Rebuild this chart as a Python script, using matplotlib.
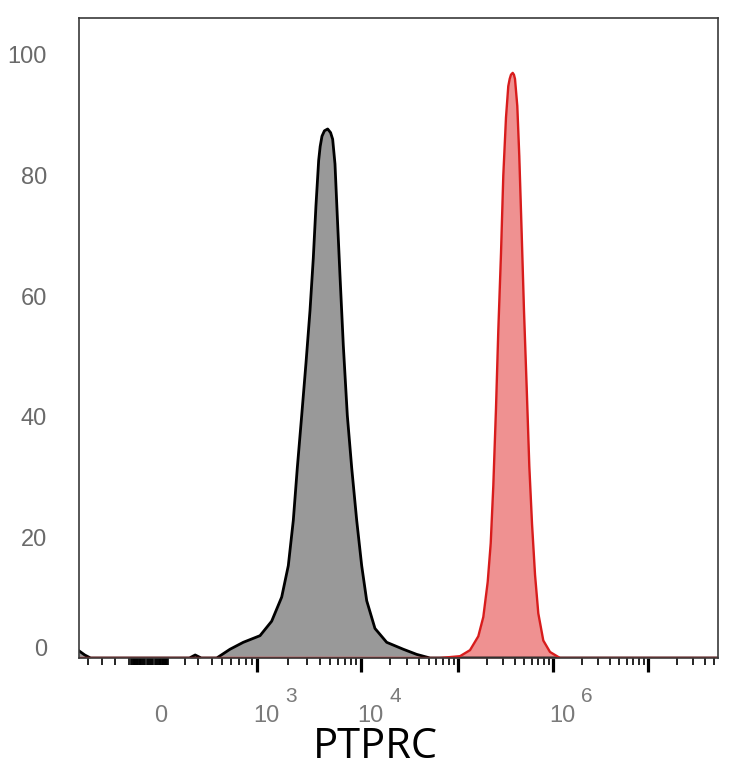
import numpy as np
import matplotlib.pyplot as plt
from matplotlib import transforms

# histogram values (x = intensity, y = % of max)
x_gray = [-490, -430, -380, 0, 230, 275, 320, 445, 586, 762, 1069, 1384, 1728, 2000,
          2234, 2441, 2691, 2959, 3234, 3479, 3690, 3918, 4050, 4215, 4450, 4783, 5100, 5341,
          5623, 5919, 6281, 6761, 7388, 8142, 9094, 10166, 11450, 13930, 18400, 27300,
          37500, 51400, 5.5e7]
y_gray = [1.2, 0.5, 0, 0, 0, 0.5, 0, 0, 1.45, 2.6, 3.7, 6.1, 10.1, 15.3,
          22.8, 31.5, 40.2, 48.9, 57.6, 66.3, 75.0, 82.5, 84.8, 86.5, 87.4, 87.7, 87.1, 86.0,
          81.9, 73.2, 63.4, 51.8, 40.2, 31.5, 22.8, 15.3, 9.5, 4.9, 2.6, 1.45,
          0.6, 0, 0]

x_red = [-490, 65200, 105000, 133800, 163600, 184700, 205400, 221000, 235400, 251200,
         265600, 283600, 299800, 320000, 338300, 350000, 361100, 376500, 388000, 398100,
         420900, 441700, 468300, 495200, 528800, 563200, 601600, 646900, 700300, 790400,
         929900, 1185000, 5.5e7]
y_red = [0, 0, 0.3, 1.3, 3.6, 6.8, 12.6, 19.0, 28.6, 41.4,
         54.3, 67.1, 80.0, 89.6, 94.8, 96.0, 96.7, 97.0, 96.7, 96.0,
         91.5, 83.2, 70.3, 57.5, 44.7, 31.8, 22.2, 13.8, 7.4, 2.9,
         1.0, 0, 0]

y_ticks = [0, 20, 40, 60, 80, 100]
x_labels = [(0, '0', None), (1e3, '10', '3'), (1e4, '10', '4'), (1e6, '10', '6')]
x_label = 'PTPRC'

# biexponential-like axis (FlowJo look), interpolated on asinh
T_VALS = np.array([0, 100, 200, 300, 400, 500, 1e3, 1e4, 1e5, 1e6, 1e7, 1e8])
T_PIX = np.array([0, 17, 35, 48, 62, 72, 107, 211, 308, 403, 498, 593], float)
T_U = np.arcsinh(T_VALS / 50)

def fwd(x):
    x = np.asarray(x, float)
    return np.sign(x) * np.interp(np.arcsinh(np.abs(x) / 50), T_U, T_PIX)

def inv(p):
    p = np.asarray(p, float)
    return np.sign(p) * 50 * np.sinh(np.interp(np.abs(p), T_PIX, T_U))


fig = plt.figure(figsize=(7.34, 7.68), dpi=100)
ax = fig.add_axes([79/734, 110/768, 639/734, 640/768])
ax.set_xscale('function', functions=(fwd, inv))

ax.fill_between(x_gray, y_gray, 0, color='#999999', lw=0)
ax.plot(x_gray, y_gray, color='black', lw=2, solid_joinstyle='round')
ax.fill_between(x_red, y_red, 0, color='#ef9191', lw=0)
ax.plot(x_red, y_red, color='#d81c1c', lw=1.7, solid_joinstyle='round')

xmin, xmax = float(inv(-71)), float(inv(568))
ax.set_xlim(xmin, xmax)
ax.set_ylim(0, 106.1)

major = [1e3, 1e4, 1e5, 1e6, 1e7]
minor = [-400, -300, -200] + list(range(-115, 106, 5)) + list(range(200, 1000, 100))
for d in range(3, 8):
    minor += [k * 10**d for k in range(2, 10)]
minor = [m for m in minor if xmin < m < xmax]
ax.set_xticks(major)
ax.set_xticks(minor, minor=True)
ax.tick_params(axis='x', which='major', length=10, width=2.3, color='black', labelbottom=False)
ax.tick_params(axis='x', which='minor', length=5, width=1.2, color='black', labelbottom=False)

ax.set_yticks(y_ticks)
ax.set_yticklabels([str(v) for v in y_ticks])
ax.tick_params(axis='y', length=0, pad=23, labelsize=17, labelcolor='#6a6a6a')
for lab in ax.get_yticklabels():
    lab.set_fontfamily('Liberation Sans')
ylab0 = ax.get_yticklabels()[0]
ylab0.set_transform(ylab0.get_transform() + transforms.ScaledTranslation(0, 11/100, fig.dpi_scale_trans))

for s in ax.spines.values():
    s.set_color('#3a3a3a')
    s.set_linewidth(1.2)

# x tick labels drawn beside the ticks like the original
xt = ax.get_xaxis_transform()
for val, base, exp in x_labels:
    if exp is None:
        tr = transforms.offset_copy(xt, fig=fig, x=11, y=0, units='dots')
        ax.text(val, -58/640, base, transform=tr, ha='center', va='center',
                fontsize=17, color='#7a7a7a', family='Liberation Sans')
    else:
        tr = transforms.offset_copy(xt, fig=fig, x=-3.5, y=0, units='dots')
        ax.text(val, -58/640, base, transform=tr, ha='left', va='center',
                fontsize=17, color='#7a7a7a', family='Liberation Sans')
        tr2 = transforms.offset_copy(xt, fig=fig, x=28, y=0, units='dots')
        ax.text(val, -39/640, exp, transform=tr2, ha='left', va='center',
                fontsize=15, color='#7a7a7a', family='Liberation Sans')

ax.set_xlabel(x_label, fontsize=30, family='Open Sans', va='center')
ax.xaxis.set_label_coords((375-79)/639, -(747-658)/640)

fig.savefig('out.png', dpi=100)
